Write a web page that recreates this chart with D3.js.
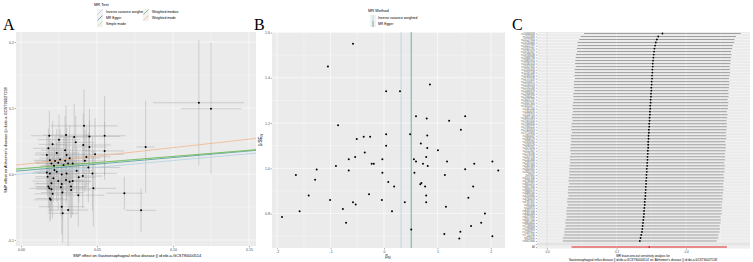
<!DOCTYPE html>
<html>
<head>
<meta charset="utf-8">
<script src="https://cdn.jsdelivr.net/npm/d3@7"></script>
<style>
body { margin: 0; background: #fff; }
svg { display: block; font-family: "Liberation Sans", Arial, sans-serif; }
</style>
</head>
<body>
<svg width="753" height="262"></svg>
<script>
"use strict"

// ---- panel A: SNP effects (exposure vs outcome)
const scatterBx = [0.0186,0.0296,0.035,0.045,0.055,0.0208,0.041,0.045,0.029,0.055,
    0.018,0.0235,0.0487,0.017,0.030,0.019,0.0224,0.0257,0.029,0.032,
    0.031,0.020,0.0245,0.042,0.034,0.0217,0.028,0.0443,0.0366,0.017,
    0.019,0.0235,0.0268,0.030,0.0406,0.047,0.0175,0.0213,0.0245,0.0296,
    0.032,0.020,0.0268,0.034,0.018,0.0186,0.0263,0.0329,0.0476,0.020,
    0.0272,0.0377,0.0208,0.019,0.0195,0.0268,0.031,0.0274,0.0415,0.036,
    0.025,0.043,0.038,0.022,0.033,0.082,0.068,0.079,0.117,0.125]
const scatterBy = [0.058,0.059,0.056,0.057,0.058,0.045,0.044,0.041,0.036,0.035,
    0.039,0.032,0.030,0.029,0.029,0.021,0.0197,0.022,0.020,0.024,
    0.016,0.016,0.017,0.020,0.016,0.0126,0.0136,0.010,0.005,0.0025,
    0.001,0.0035,-0.0005,0.001,-0.003,0.001,-0.004,-0.0065,-0.0106,-0.009,
    -0.0116,-0.014,-0.015,-0.0106,-0.019,-0.0217,-0.020,-0.019,-0.0217,-0.023,
    -0.028,-0.032,-0.030,-0.037,-0.039,-0.0495,-0.0545,-0.0595,0.073,0.048,
    0.052,0.026,-0.005,0.006,-0.024,0.041,-0.029,-0.055,0.108,0.099]
const scatterSeX = [0.012,0.015,0.010,0.020,0.014,0.009,0.018,0.011,0.016,0.013,
    0.010,0.014,0.019,0.008,0.017,0.011,0.013,0.009,0.015,0.020,
    0.012,0.010,0.016,0.014,0.018,0.009,0.013,0.021,0.011,0.007,
    0.012,0.015,0.010,0.019,0.013,0.016,0.008,0.012,0.017,0.011,
    0.014,0.010,0.018,0.012,0.009,0.013,0.016,0.011,0.015,0.010,
    0.014,0.017,0.012,0.009,0.011,0.015,0.013,0.010,0.022,0.012,
    0.014,0.016,0.011,0.010,0.013,0.006,0.012,0.010,0.030,0.020]
const scatterSeY = [0.038,0.045,0.050,0.042,0.060,0.035,0.048,0.040,0.052,0.044,
    0.030,0.036,0.055,0.028,0.041,0.033,0.039,0.046,0.037,0.050,
    0.043,0.034,0.038,0.047,0.040,0.031,0.042,0.053,0.036,0.029,
    0.032,0.045,0.039,0.041,0.049,0.056,0.030,0.035,0.044,0.038,
    0.046,0.033,0.040,0.051,0.032,0.036,0.043,0.048,0.058,0.034,
    0.041,0.047,0.037,0.035,0.030,0.042,0.055,0.044,0.055,0.040,
    0.038,0.046,0.039,0.033,0.042,0.070,0.025,0.033,0.095,0.100]

const methodNames = ["Inverse variance weighted", "MR Egger", "Simple mode", "Weighted median", "Weighted mode"]
const methodIntercepts = [0.0, 0.005, 0.0075, 0.0082, 0.0144]
const methodSlopes = [0.205, 0.2, 0.19, 0.185, 0.256]

const scatterXTicks = [0, 0.05, 0.10, 0.15]
const scatterYTicks = [-0.1, 0.0, 0.1, 0.2]

// ---- panel B: funnel plot
const funnelBeta = [-0.58,-1.05,0.86,0.04,0.30,0.60,0.80,1.22,1.52,-0.86,
    1.44,-0.51,-0.38,-0.26,0.04,0.49,0.81,0.04,0.69,0.81,
    1.01,-0.36,0.79,-0.66,-0.54,-0.03,0.56,0.60,0.73,0.82,
    -0.23,-0.19,-0.90,1.18,1.69,2.03,-1.26,-0.66,-0.03,0.57,
    1.14,1.52,2.14,-1.65,-1.29,0.08,0.68,0.70,0.19,0.77,
    1.67,-1.41,-0.28,0.79,1.58,-1.01,-0.04,-0.58,-0.53,0.39,
    0.79,-0.77,1.16,-1.58,0.15,1.89,-1.91,-0.71,1.82,1.63,
    0.51,1.43,1.13,1.41,2.03]
const funnelInvSe = [1.55,1.45,1.37,1.34,1.34,1.23,1.22,1.21,1.23,1.19,
    1.17,1.13,1.14,1.14,1.15,1.15,1.145,1.10,1.11,1.09,
    1.08,1.07,1.05,1.04,1.05,1.04,1.04,1.03,1.02,1.01,
    1.02,1.02,1.01,1.03,1.02,1.03,0.995,0.99,0.98,0.98,
    0.97,0.996,0.99,0.97,0.95,0.94,0.93,0.935,0.92,0.92,
    0.92,0.88,0.885,0.88,0.87,0.86,0.86,0.85,0.84,0.85,
    0.85,0.82,0.83,0.81,0.81,0.80,0.785,0.76,0.76,0.745,
    0.73,0.72,0.71,0.69,0.70]
const funnelMethods = ["Inverse variance weighted", "MR Egger"]
const funnelEstimates = [0.32, 0.51]
const funnelXTicks = [-2, -1, 0, 1, 2]
const funnelYTicks = [0.8, 1.0, 1.2, 1.4, 1.6]

// ---- panel C: leave-one-out
const looSnps = ["rs10096633","rs1011685","rs10127904","rs10235664","rs10422797","rs10507291","rs10741657","rs10789038","rs10838738","rs10865954",
    "rs11030104","rs11057405","rs11165643","rs11191548","rs11583200","rs11727676","rs12016871","rs12140153","rs12192183","rs12444979",
    "rs12566985","rs12940622","rs13021737","rs13107325","rs13201877","rs1441264","rs1460676","rs1516725","rs16851483","rs17001654",
    "rs17066856","rs17094222","rs17405819","rs17724992","rs1800437","rs1808579","rs1928295","rs2033529","rs2075650","rs2112347",
    "rs2176598","rs2207139","rs2245368","rs2287019","rs2365389","rs2650492","rs2820292","rs29941","rs3101336","rs3736485",
    "rs3810291","rs3817334","rs3849570","rs3888190","rs4256980","rs4740619","rs4787491","rs492400","rs543874","rs6091540",
    "rs6465468","rs6477694","rs6567160","rs6804842","rs7138803","rs7239883","rs7599312","rs7715256","rs879620","rs9925964"]
const looB = [0.332,0.320,0.316,0.313,0.311,0.309,0.308,0.307,0.306,0.305,
    0.304,0.304,0.303,0.303,0.302,0.302,0.301,0.301,0.300,0.300,
    0.299,0.299,0.298,0.298,0.297,0.297,0.296,0.296,0.295,0.295,
    0.294,0.294,0.293,0.293,0.292,0.292,0.291,0.291,0.291,0.290,
    0.290,0.289,0.289,0.288,0.288,0.287,0.287,0.286,0.286,0.285,
    0.285,0.284,0.284,0.283,0.283,0.282,0.281,0.281,0.280,0.279,
    0.279,0.278,0.277,0.276,0.275,0.274,0.273,0.271,0.269,0.267]
const looSe = [0.115,0.114,0.114,0.115,0.114,0.114,0.113,0.114,0.114,0.114,
    0.114,0.113,0.114,0.114,0.114,0.113,0.114,0.114,0.114,0.113,
    0.114,0.114,0.113,0.114,0.114,0.114,0.113,0.114,0.114,0.113,
    0.114,0.114,0.114,0.113,0.114,0.114,0.113,0.114,0.114,0.114,
    0.113,0.114,0.114,0.113,0.114,0.114,0.114,0.113,0.114,0.114,
    0.113,0.114,0.114,0.114,0.113,0.114,0.114,0.113,0.114,0.114,
    0.114,0.113,0.114,0.114,0.113,0.114,0.114,0.113,0.114,0.113]
const looAllB = 0.294
const looAllSe = 0.114
const looXTicks = [0.0, 0.2, 0.4]

const exposureLabel = "Gastroesophageal reflux disease || id:ebi-a-GCST90000514"
const outcomeLabel = "Alzheimer's disease || id:ebi-a-GCST90027158"

const methodColor = d3.scaleOrdinal()
    .domain(methodNames)
    .range(["#a6cee3", "#2f8f94", "#b2df8a", "#5fae4e", "#f4ae7c"])

const svg = d3.select("svg")

function midpoints(ticks, domain) {
    const step = ticks[1] - ticks[0]
    const out = []
    for (let v = ticks[0] - step / 2; v <= domain[1] + 1e-9; v += step) {
        if (v >= domain[0]) out.push(v)
    }
    return out
}

// ggplot-like grey panel with grid and axes
function drawFrame(g, x, y, xTicks, yTicks, xFmt, yFmt, drawYGrid, tickFont) {
    const [x0, x1] = x.range()
    const [y1, y0] = y.range()
    g.append("rect")
        .attr("x", x0).attr("y", y0)
        .attr("width", x1 - x0).attr("height", y1 - y0)
        .style("fill", "#ebebeb")

    const grid = g.append("g").style("stroke", "#fff")
    grid.selectAll(".vminor").data(midpoints(xTicks, x.domain())).enter().append("line")
        .attr("x1", d => x(d)).attr("x2", d => x(d)).attr("y1", y0).attr("y2", y1)
        .style("stroke-width", 0.3)
    grid.selectAll(".vmajor").data(xTicks).enter().append("line")
        .attr("x1", d => x(d)).attr("x2", d => x(d)).attr("y1", y0).attr("y2", y1)
        .style("stroke-width", 0.6)
    if (drawYGrid) {
        grid.selectAll(".hminor").data(midpoints(yTicks, y.domain())).enter().append("line")
            .attr("y1", d => y(d)).attr("y2", d => y(d)).attr("x1", x0).attr("x2", x1)
            .style("stroke-width", 0.3)
        grid.selectAll(".hmajor").data(yTicks).enter().append("line")
            .attr("y1", d => y(d)).attr("y2", d => y(d)).attr("x1", x0).attr("x2", x1)
            .style("stroke-width", 0.6)
    }

    const ax = g.append("g")
        .attr("transform", "translate(0," + y1 + ")")
        .call(d3.axisBottom(x).tickValues(xTicks).tickSize(1.3).tickPadding(0.8).tickFormat(xFmt))
    styleAxis(ax, tickFont)
    if (yFmt) {
        const ay = g.append("g")
            .attr("transform", "translate(" + x0 + ",0)")
            .call(d3.axisLeft(y).tickValues(yTicks).tickSize(1.3).tickPadding(0.8).tickFormat(yFmt))
        styleAxis(ay, tickFont)
    }
}

function styleAxis(a, size) {
    a.select(".domain").remove()
    a.selectAll(".tick line").style("stroke", "#333").style("stroke-width", 0.4)
    a.selectAll(".tick text").style("font-size", (size || 3.6) + "px").style("fill", "#4d4d4d")
        .style("font-family", "Liberation Sans, Arial, sans-serif")
}

function panelLetter(text, x) {
    svg.append("text").attr("x", x).attr("y", 30).text(text)
        .style("font-family", "Liberation Serif, Times New Roman, serif")
        .style("font-size", "16px")
}

function renderScatter() {
    const g = svg.append("g")
    const x = d3.scaleLinear().domain([-0.0033, 0.1546]).range([16, 256])
    const y = d3.scaleLinear().domain([-0.109, 0.2152]).range([246, 32])
    drawFrame(g, x, y, scatterXTicks, scatterYTicks, d => d.toFixed(2), d => d.toFixed(1), true)

    g.append("clipPath").attr("id", "clipA").append("rect")
        .attr("x", 16).attr("y", 32).attr("width", 240).attr("height", 214)
    const inner = g.append("g").attr("clip-path", "url(#clipA)")

    const pts = scatterBx.map((bx, i) => ({bx: bx, by: scatterBy[i], sx: scatterSeX[i], sy: scatterSeY[i]}))
    inner.selectAll(".ev").data(pts).enter().append("line")
        .attr("x1", d => x(d.bx)).attr("x2", d => x(d.bx))
        .attr("y1", d => y(d.by - d.sy)).attr("y2", d => y(d.by + d.sy))
        .style("stroke", "#a6a6a6").style("stroke-width", 0.45)
    inner.selectAll(".eh").data(pts).enter().append("line")
        .attr("y1", d => y(d.by)).attr("y2", d => y(d.by))
        .attr("x1", d => x(d.bx - d.sx)).attr("x2", d => x(d.bx + d.sx))
        .style("stroke", "#a6a6a6").style("stroke-width", 0.45)

    const dom = x.domain()
    inner.selectAll(".fit").data(methodNames).enter().append("line")
        .attr("x1", x(dom[0])).attr("x2", x(dom[1]))
        .attr("y1", (d, i) => y(methodIntercepts[i] + methodSlopes[i] * dom[0]))
        .attr("y2", (d, i) => y(methodIntercepts[i] + methodSlopes[i] * dom[1]))
        .style("stroke", d => methodColor(d)).style("stroke-width", 0.7)

    inner.selectAll(".pt").data(pts).enter().append("circle")
        .attr("cx", d => x(d.bx)).attr("cy", d => y(d.by)).attr("r", 1)
        .style("fill", "#000")

    // axis titles
    svg.append("text").attr("x", 137).attr("y", 257).attr("text-anchor", "middle")
        .text("SNP effect on " + exposureLabel).style("font-size", "3.9px")
    svg.append("text").attr("transform", "translate(7,140) rotate(-90)").attr("text-anchor", "middle")
        .text("SNP effect on " + outcomeLabel).style("font-size", "3.9px")

    // legend
    const lg = svg.append("g")
    lg.append("text").attr("x", 94).attr("y", 6).text("MR Test").style("font-size", "4px")
    const cols = [[97, 9], [97, 15], [97, 21], [143, 9], [143, 15]]
    methodNames.forEach(function(m, i) {
        const kx = cols[i][0], ky = cols[i][1]
        lg.append("rect").attr("x", kx).attr("y", ky).attr("width", 6).attr("height", 6).style("fill", "#f2f2f2")
        lg.append("line").attr("x1", kx + 0.5).attr("y1", ky + 5.5).attr("x2", kx + 5.5).attr("y2", ky + 0.5)
            .style("stroke", methodColor(m)).style("stroke-width", 0.7)
        lg.append("text").attr("x", kx + 9).attr("y", ky + 4.3).text(m).style("font-size", "3.4px")
    })
    panelLetter("A", 3)
}

function renderFunnel() {
    const g = svg.append("g")
    const x = d3.scaleLinear().domain([-2.097, 2.266]).range([272, 505])
    const y = d3.scaleLinear().domain([0.648, 1.6022]).range([248, 32])
    drawFrame(g, x, y, funnelXTicks, funnelYTicks, d => String(d), d => d.toFixed(1), true)

    g.selectAll(".est").data(funnelMethods).enter().append("line")
        .attr("x1", (d, i) => x(funnelEstimates[i])).attr("x2", (d, i) => x(funnelEstimates[i]))
        .attr("y1", 32).attr("y2", 248)
        .style("stroke", d => methodColor(d)).style("stroke-width", 0.7)

    g.selectAll(".pt").data(funnelBeta).enter().append("circle")
        .attr("cx", d => x(d)).attr("cy", (d, i) => y(funnelInvSe[i])).attr("r", 1)
        .style("fill", "#000")

    const xt = svg.append("text").attr("x", 388).attr("y", 257.5).attr("text-anchor", "middle").style("font-size", "4.5px")
    xt.append("tspan").text("\u03b2")
    xt.append("tspan").attr("dy", 1).style("font-size", "3px").text("IV")
    const yt = svg.append("text").attr("transform", "translate(262,140) rotate(-90)").attr("text-anchor", "middle")
        .style("font-size", "4.5px")
    yt.append("tspan").text("1/SE")
    yt.append("tspan").attr("dy", 1).style("font-size", "3px").text("IV")

    const lg = svg.append("g")
    lg.append("text").attr("x", 368).attr("y", 12).text("MR Method").style("font-size", "4px")
    funnelMethods.forEach(function(m, i) {
        const kx = 370, ky = 15 + i * 6
        lg.append("rect").attr("x", kx).attr("y", ky).attr("width", 6).attr("height", 6).style("fill", "#f2f2f2")
        lg.append("line").attr("x1", kx + 3).attr("x2", kx + 3).attr("y1", ky).attr("y2", ky + 6)
            .style("stroke", methodColor(m)).style("stroke-width", 0.7)
        lg.append("text").attr("x", kx + 8).attr("y", ky + 4.2).text(m).style("font-size", "3.4px")
    })
    panelLetter("B", 254)
}

function renderLeaveOneOut() {
    const g = svg.append("g")
    const rows = looSnps.concat(["", "All"])
    const x = d3.scaleLinear().domain([-0.029, 0.584]).range([537, 750])
    const y = d3.scalePoint().domain(rows).range([32, 248.5]).padding(0.5)
    const yLin = d3.scaleLinear().domain([0, 1]).range([248.5, 32])
    drawFrame(g, x, yLin, looXTicks, [0, 1], d => d.toFixed(1), null, false, 3)

    // row gridlines
    g.selectAll(".rowgrid").data(rows).enter().append("line")
        .attr("x1", 537).attr("x2", 750).attr("y1", d => y(d)).attr("y2", d => y(d))
        .style("stroke", "#fff").style("stroke-width", 0.4)

    g.append("line").attr("x1", x(0)).attr("x2", x(0)).attr("y1", 32).attr("y2", 248.5)
        .style("stroke", "#999").style("stroke-width", 0.5).style("stroke-dasharray", "0.6,0.6")
    g.append("line").attr("x1", 537).attr("x2", 750).attr("y1", y("")).attr("y2", y(""))
        .style("stroke", "#c4c4c4").style("stroke-width", 0.5)

    const loo = looSnps.map((s, i) => ({snp: s, b: looB[i], se: looSe[i]}))
    loo.push({snp: "All", b: looAllB, se: looAllSe})

    g.selectAll(".ci").data(loo).enter().append("line")
        .attr("x1", d => x(d.b - 1.96 * d.se)).attr("x2", d => x(d.b + 1.96 * d.se))
        .attr("y1", d => y(d.snp)).attr("y2", d => y(d.snp))
        .style("stroke", d => d.snp === "All" ? "#e0262b" : "#8a8a8a")
        .style("stroke-width", d => d.snp === "All" ? 1.2 : 0.8)
    g.selectAll(".pt").data(loo).enter().append("circle")
        .attr("cx", d => x(d.b)).attr("cy", d => y(d.snp)).attr("r", 0.9)
        .style("fill", d => d.snp === "All" ? "#e0262b" : "#000")

    const ay = g.append("g").attr("transform", "translate(537,0)")
        .call(d3.axisLeft(y).tickSize(1.2).tickPadding(1))
    styleAxis(ay)
    ay.selectAll(".tick text").style("font-size", "2.6px")

    svg.append("text").attr("x", 643).attr("y", 257).attr("text-anchor", "middle")
        .text("MR leave-one-out sensitivity analysis for").style("font-size", "3px")
    svg.append("text").attr("x", 643).attr("y", 261).attr("text-anchor", "middle")
        .text("'" + exposureLabel + "' on '" + outcomeLabel + "'").style("font-size", "3px")
    panelLetter("C", 512)
}

renderScatter()
renderFunnel()
renderLeaveOneOut()
</script>
</body>
</html>
